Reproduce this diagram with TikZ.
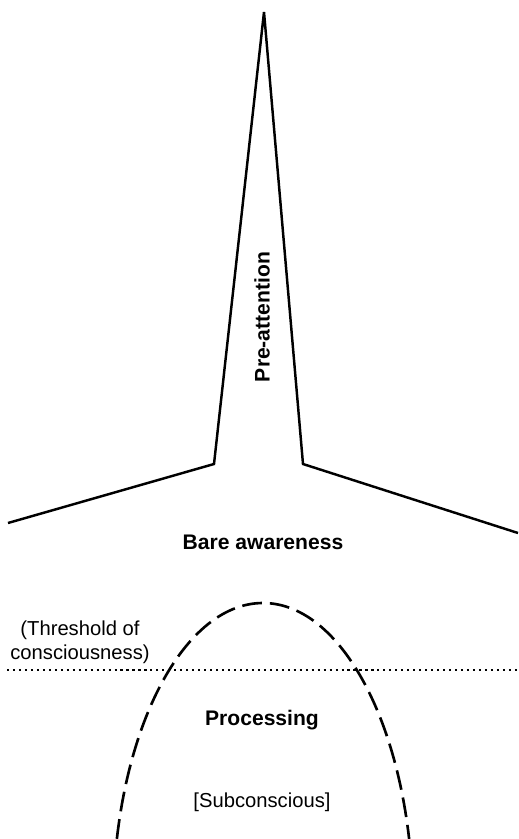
\documentclass[tikz,border=0pt]{standalone}
\usepackage{fontspec}
\setmainfont{Liberation Sans}
\usetikzlibrary{calc}

\begin{document}
\begin{tikzpicture}[x=0.02cm, y=-0.02cm]
\tikzset{label/.style={font=\fontsize{11.5}{13.5}\selectfont, align=center, inner sep=0pt}}
\tikzset{bold/.style={font=\fontsize{12}{14}\selectfont\bfseries, inner sep=0pt}}
\tikzset{outline/.style={line width=1.4pt, line join=miter}}
\tikzset{threshold/.style={line width=1.3pt, dash pattern=on 1.2pt off 2.2pt}}
\tikzset{bubble/.style={line width=1.5pt, dash pattern=on 11.3pt off 4.5pt}}

\useasboundingbox (0,0) rectangle (518,839);

%% Spike
\coordinate (peak) at (264, 12);
\coordinate (kneeL) at (214, 464);
\coordinate (kneeR) at (303, 464);
\coordinate (endL) at (8, 523);
\coordinate (endR) at (518, 533);

\draw[outline] (endL) -- (kneeL) -- (peak) -- (kneeR) -- (endR);

\node[bold, rotate=90] (pre) at (262, 317) {Pre-attention};
\node[bold] (bare) at (263, 542) {Bare awareness};

%% Threshold
\coordinate (thL) at (7, 670);
\coordinate (thR) at (518, 670);
\draw[threshold] (thL) -- (thR);

\node[label] (thr) at (80, 642) {(Threshold of\\consciousness)};

%% Subconscious bubble
\begin{scope}
    \clip (0,0) rectangle (518,839);
    \draw[bubble] (263, 908) ellipse [x radius=150, y radius=305];
\end{scope}

\node[bold] (proc) at (262, 720) {Processing};
\node[label] (sub) at (262, 802) {[Subconscious]};

\end{tikzpicture}
\end{document}
